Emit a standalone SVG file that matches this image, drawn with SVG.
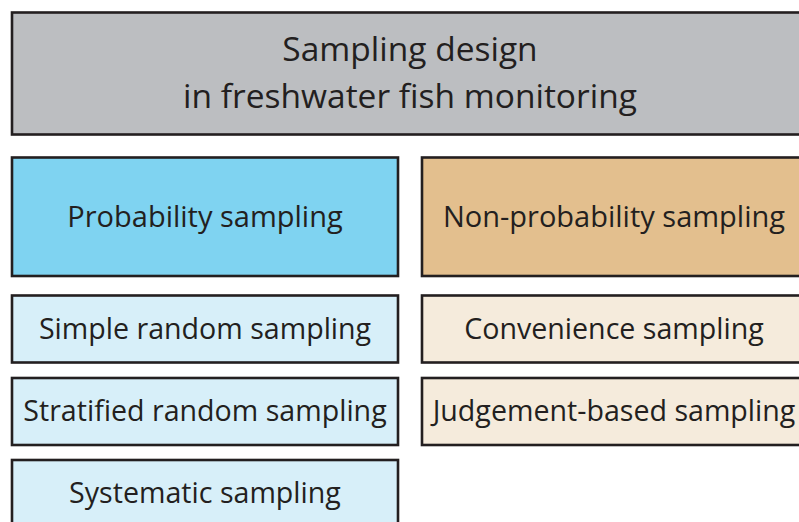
<svg xmlns="http://www.w3.org/2000/svg" width="799" height="522" viewBox="0 0 799 522">
<style>
rect{stroke:#231f20;stroke-width:2.6}
text{font-family:"Open Sans","Noto Sans",sans-serif;fill:#231f20;text-anchor:middle}
.t{font-size:33.5px}
.h{font-size:29px}
.s{font-size:28.6px}
</style>
<rect width="799" height="522" fill="#fff" style="stroke:none"/>
<g id="title"><rect x="12" y="12.5" width="796" height="122" fill="#bcbec1"/>
<text class="t" x="410" y="61">Sampling design</text>
<text class="t" x="410" y="108">in freshwater fish monitoring</text></g>
<g id="probability"><rect x="12" y="157.5" width="386" height="118.5" fill="#7fd3f1"/>
<text class="h" x="205" y="227">Probability sampling</text></g>
<g id="nonprobability"><rect x="422" y="157.5" width="386" height="118.5" fill="#e3bf8e"/>
<text class="h" x="614" y="227">Non-probability sampling</text></g>
<g id="simple"><rect x="12" y="295.5" width="386" height="67" fill="#d7eff9"/>
<text class="s" x="205" y="339">Simple random sampling</text></g>
<g id="stratified"><rect x="12" y="378" width="386" height="67" fill="#d7eff9"/>
<text class="s" x="205" y="421">Stratified random sampling</text></g>
<g id="systematic"><rect x="12" y="460" width="386" height="70" fill="#d7eff9"/>
<text class="s" x="205" y="503">Systematic sampling</text></g>
<g id="convenience"><rect x="422" y="295.5" width="386" height="67" fill="#f5ebdc"/>
<text class="s" x="614" y="339">Convenience sampling</text></g>
<g id="judgement"><rect x="422" y="378" width="386" height="67" fill="#f5ebdc"/>
<text class="s" x="614" y="421">Judgement-based sampling</text></g>
<g id="connectors"/>
</svg>
